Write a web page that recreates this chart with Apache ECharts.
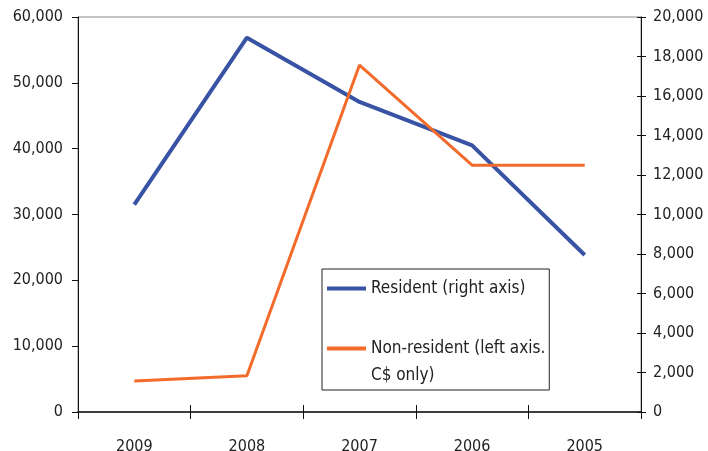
<!DOCTYPE html>
<html>
<head>
<meta charset="utf-8">
<script src="https://cdn.jsdelivr.net/npm/echarts@6/dist/echarts.min.js"></script>
<style>
  html, body { margin: 0; padding: 0; background: #fff; }
  #chart { width: 708px; height: 451px; }
</style>
</head>
<body>
<div id="chart"></div>
<script>
// Years shown left to right (most recent first)
const years = ['2009', '2008', '2007', '2006', '2005'];

// Resident totals, read on the right axis
const residentName = 'Resident (right axis)';
const resident = [10500, 18950, 15700, 13500, 7950];

// Non-resident totals, C$ only, read on the left axis
const nonResidentName = 'Non-resident (left axis. C$ only)';
const nonResident = [4700, 5500, 52700, 37500, 37500];

const FONT = '"DejaVu Sans Condensed", "Liberation Sans Narrow", "DejaVu Sans", sans-serif';
// narrow face via the canvas font shorthand (font-stretch keyword)
const NARROW = 'condensed';
const fmt = v => v.toLocaleString('en-US');
const axisFont = { fontFamily: FONT, fontWeight: NARROW, fontSize: 16, color: '#222' };
const legendFont = { fontFamily: FONT, fontWeight: NARROW, fontSize: 17, color: '#222', lineHeight: 27 };

const chart = echarts.init(document.getElementById('chart'));
chart.setOption({
  animation: false,
  backgroundColor: '#fff',
  textStyle: { fontFamily: FONT, fontWeight: NARROW },
  grid: {
    left: 78, right: 67, top: 17, bottom: 39,
    outerBoundsMode: 'none',
    containLabel: false,
    show: true, borderColor: '#8a8a8a', borderWidth: 1
  },
  legend: {
    orient: 'vertical',
    left: 322, top: 269,
    padding: [6, 4, 1, 5],
    itemGap: 6,
    itemWidth: 39, itemHeight: 4,
    backgroundColor: '#fff',
    borderColor: '#222', borderWidth: 1,
    icon: 'rect',
    // second entry wraps after "axis."; a blank leading line keeps the swatch on its first line
    formatter: name => name.indexOf('axis. ') >= 0 ? '\n' + name.replace('axis. ', 'axis.\n') : name,
    textStyle: legendFont,
    data: [residentName, nonResidentName]
  },
  xAxis: [
    {
      type: 'category',
      data: years,
      boundaryGap: true,
      axisLine: { lineStyle: { color: '#111', width: 1.5 } },
      axisTick: { show: true, length: 7, lineStyle: { color: '#111' } },
      axisLabel: Object.assign({}, axisFont, { margin: 27 })
    },
    {
      // inner half of the crossing tick marks on the category axis
      type: 'category',
      data: years,
      position: 'bottom',
      boundaryGap: true,
      axisLine: { show: false },
      axisTick: { show: true, inside: true, length: 7, lineStyle: { color: '#111' } },
      axisLabel: { show: false }
    }
  ],
  yAxis: [
    {
      type: 'value', position: 'left',
      min: 0, max: 60000, interval: 10000,
      axisLine: { show: true, lineStyle: { color: '#111' } },
      axisTick: { show: true, length: 6, lineStyle: { color: '#111' } },
      splitLine: { show: false },
      axisLabel: Object.assign({}, axisFont, { margin: 15, formatter: fmt })
    },
    {
      type: 'value', position: 'right',
      min: 0, max: 20000, interval: 2000,
      axisLine: { show: true, lineStyle: { color: '#111' } },
      axisTick: { show: true, length: 5, lineStyle: { color: '#111' } },
      splitLine: { show: false },
      axisLabel: Object.assign({}, axisFont, { margin: 12, formatter: fmt })
    },
    {
      // inner half of the crossing tick marks on the right axis
      type: 'value', position: 'right',
      min: 0, max: 20000, interval: 2000,
      axisLine: { show: false },
      axisTick: { show: true, inside: true, length: 4, lineStyle: { color: '#111' } },
      splitLine: { show: false },
      axisLabel: { show: false }
    }
  ],
  series: [
    {
      name: residentName,
      type: 'line',
      yAxisIndex: 1,
      data: resident,
      symbol: 'none',
      color: '#3953a4',
      lineStyle: { width: 4, color: '#3953a4' },
      z: 2
    },
    {
      name: nonResidentName,
      type: 'line',
      yAxisIndex: 0,
      data: nonResident,
      symbol: 'none',
      color: '#f26b2b',
      lineStyle: { width: 3, color: '#f26b2b' },
      z: 3
    }
  ]
});
</script>
</body>
</html>
